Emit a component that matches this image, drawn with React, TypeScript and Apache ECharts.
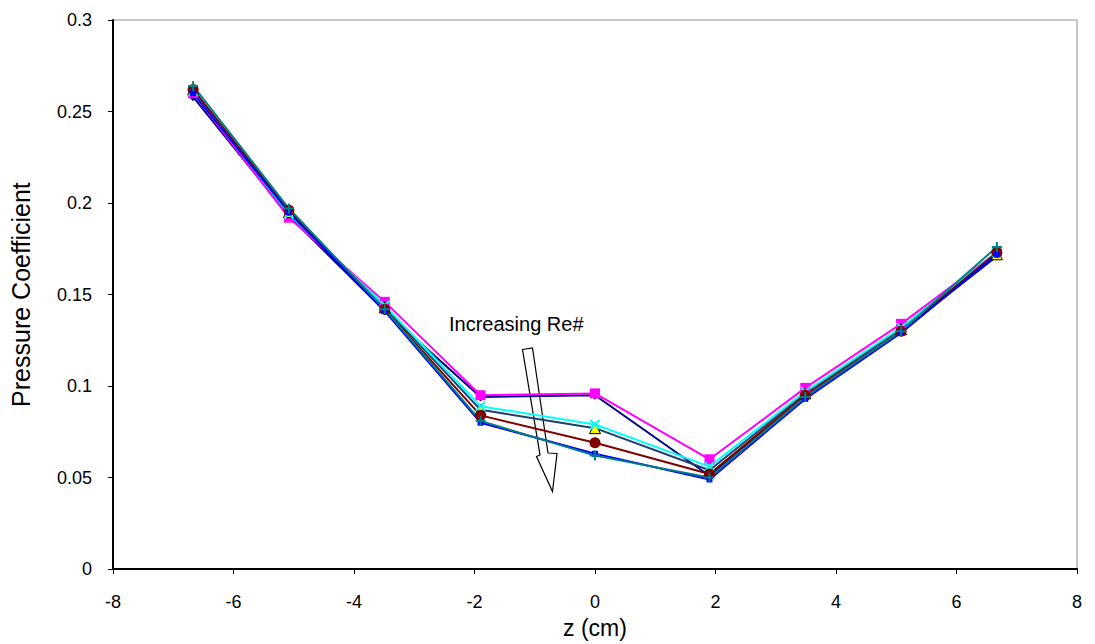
import React, { useEffect, useRef } from "react";
import * as echarts from "echarts";

const zPositions = [-6.67, -5.08, -3.49, -1.9, 0, 1.9, 3.49, 5.08, 6.67];

const navyDiamond = [0.258, 0.193, 0.141, 0.094, 0.095, 0.051, 0.094, 0.13, 0.171];
const magentaSquare = [0.26, 0.192, 0.146, 0.095, 0.096, 0.06, 0.099, 0.134, 0.173];
const yellowTriangle = [0.262, 0.195, 0.143, 0.087, 0.077, 0.054, 0.096, 0.131, 0.172];
const cyanCross = [0.261, 0.194, 0.144, 0.089, 0.079, 0.056, 0.097, 0.132, 0.173];
const maroonCircle = [0.262, 0.196, 0.142, 0.084, 0.069, 0.052, 0.095, 0.13, 0.173];
const blueDash = [0.26, 0.195, 0.141, 0.08, 0.063, 0.049, 0.093, 0.129, 0.172];
const tealPlus = [0.264, 0.197, 0.142, 0.081, 0.062, 0.05, 0.094, 0.13, 0.176];

const xTicks = [-8, 8, 2];
const yTicks = [0, 0.3, 0.05];

const FONT = "'Liberation Sans', Arial, sans-serif";

function pairs(vals: number[]) {
  return vals.map((v, i) => [zPositions[i], v]);
}

export default function App() {
  const ref = useRef<HTMLDivElement>(null);
  useEffect(() => {
    if (!ref.current) return;
    const chart = echarts.init(ref.current, undefined, { renderer: "svg" });
    const mk = (
      name: string,
      data: number[],
      line: string,
      symbol: string,
      size: number,
      fill: string,
      border: string,
      bw: number
    ) => ({
      name,
      type: "line",
      data: pairs(data),
      symbol,
      symbolSize: size,
      showSymbol: true,
      lineStyle: { color: line, width: 2 },
      itemStyle: { color: fill, borderColor: border, borderWidth: bw },
    });
    chart.setOption({
      animation: false,
      backgroundColor: "#ffffff",
      grid: {
        left: 112,
        right: 18,
        top: 20,
        bottom: 74,
        show: true,
        borderColor: "#909090",
        borderWidth: 1,
        backgroundColor: "transparent",
      },
      xAxis: {
        type: "value",
        min: xTicks[0],
        max: xTicks[1],
        interval: xTicks[2],
        name: "z (cm)",
        nameLocation: "middle",
        nameGap: 39,
        nameTextStyle: { fontFamily: FONT, fontSize: 23, color: "#000" },
        axisLine: { show: true, onZero: false, lineStyle: { color: "#000", width: 2 } },
        axisTick: { show: true, inside: false, length: 5, lineStyle: { color: "#000" } },
        axisLabel: { fontFamily: FONT, fontSize: 18, color: "#000", margin: 24 },
        splitLine: { show: false },
      },
      yAxis: {
        type: "value",
        min: yTicks[0],
        max: yTicks[1],
        interval: yTicks[2],
        name: "Pressure Coefficient",
        nameLocation: "middle",
        nameGap: 80,
        nameTextStyle: { fontFamily: FONT, fontSize: 25, color: "#000" },
        axisLine: { show: true, onZero: false, lineStyle: { color: "#000", width: 2 } },
        axisTick: { show: true, inside: false, length: 5, lineStyle: { color: "#000" } },
        axisLabel: { fontFamily: FONT, fontSize: 18, color: "#000", margin: 21 },
        splitLine: { show: false },
      },
      series: [
        mk("Re 1", navyDiamond, "#000080", "diamond", 9, "#000080", "#000080", 0),
        mk("Re 2", magentaSquare, "#FF00FF", "rect", 10, "#FF00FF", "#FF00FF", 0),
        mk("Re 3", yellowTriangle, "#1F3F6F", "triangle", 11, "#FFFF00", "#000000", 1),
        mk("Re 4", cyanCross, "#00FFFF", "path://M0,0L10,10M10,0L0,10", 9, "none", "#00FFFF", 2),
        mk("Re 5", maroonCircle, "#800000", "circle", 11, "#800000", "#800000", 0),
        mk("Re 6", blueDash, "#0000FF", "rect", 6, "#0000FF", "#0000FF", 0),
        mk("Re 7", tealPlus, "#008080", "path://M5,0L5,10M0,5L10,5", 10, "none", "#008080", 2),
      ],
      graphic: [
        {
          type: "text",
          left: 449,
          top: 314,
          style: { text: "Increasing Re#", fontFamily: FONT, fontSize: 20, fill: "#000" },
        },
        {
          type: "polygon",
          shape: {
            points: [
              [522.5, 349.5],
              [532.5, 348],
              [548, 453],
              [557, 453.5],
              [552.5, 491.5],
              [536.5, 456.5],
              [540, 455],
            ],
          },
          style: { fill: "#ffffff", stroke: "#000000", lineWidth: 1.2 },
        },
      ],
    });
    return () => chart.dispose();
  }, []);
  return (
    <div
      ref={ref}
      style={{ position: "fixed", left: 0, top: 0, width: 1095, height: 644 }}
    />
  );
}
